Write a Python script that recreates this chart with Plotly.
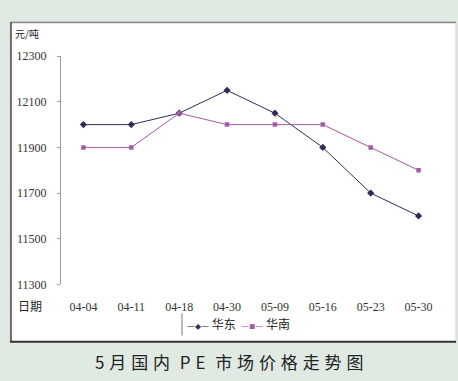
import plotly.graph_objects as go

W, H = 458, 381

dates = ["04-04", "04-11", "04-18", "04-30", "05-09", "05-16", "05-23", "05-30"]
east_china = [12000, 12000, 12050, 12150, 12050, 11900, 11700, 11600]
south_china = [11900, 11900, 12050, 12000, 12000, 12000, 11900, 11800]
y_ticks = [11300, 11500, 11700, 11900, 12100, 12300]

EAST_COLOR = "#2d2d5c"
SOUTH_COLOR = "#a45aa4"

serif = "Liberation Serif, DejaVu Serif, serif"
cjk = "Noto Sans CJK SC, sans-serif"


def px_x(v):
    return v / W


def px_y(v):
    return 1 - v / H


fig = go.Figure()
fig.add_trace(go.Scatter(
    x=dates, y=east_china, name="华东", mode="lines+markers",
    line=dict(color=EAST_COLOR, width=1),
    marker=dict(symbol="diamond", size=5.5, color=EAST_COLOR),
))
fig.add_trace(go.Scatter(
    x=dates, y=south_china, name="华南", mode="lines+markers",
    line=dict(color=SOUTH_COLOR, width=1),
    marker=dict(symbol="square", size=4.5, color=SOUTH_COLOR),
))

shapes = [
    # white card behind the chart
    dict(type="rect", xref="paper", yref="paper",
         x0=px_x(10), x1=px_x(456), y0=px_y(348), y1=px_y(15),
         fillcolor="white", line=dict(color="#cfd4d1", width=1), layer="below"),
    # darker frame edges
    dict(type="line", xref="paper", yref="paper",
         x0=px_x(10), x1=px_x(456), y0=px_y(16), y1=px_y(16),
         line=dict(color="#8a8a8a", width=1.5)),
    dict(type="line", xref="paper", yref="paper",
         x0=px_x(11), x1=px_x(11), y0=px_y(16), y1=px_y(348),
         line=dict(color="#444444", width=1.5)),
    dict(type="line", xref="paper", yref="paper",
         x0=px_x(10), x1=px_x(456), y0=px_y(347.5), y1=px_y(347.5),
         line=dict(color="#333333", width=2)),
    # legend separator
    dict(type="line", xref="paper", yref="paper",
         x0=px_x(182), x1=px_x(182), y0=px_y(318), y1=px_y(341),
         line=dict(color="#777777", width=1)),
]


def legend_key(color, glyph, name):
    return (f"<span style='color:{color};font-size:9px'>—</span>"
            f"<span style='color:{color};font-size:6px'>{glyph}</span>"
            f"<span style='color:{color};font-size:9px'>—</span> {name}")


legend_text = (legend_key(EAST_COLOR, "◆", fig.data[0].name) + "  "
               + legend_key(SOUTH_COLOR, "■", fig.data[1].name))

gap = " \u200a"
title = gap.join("5月国内") + gap * 2 + gap.join("PE") + gap * 2 + gap.join("市场价格走势图")

annotations = [
    dict(text="元/吨", x=px_x(13), y=px_y(28), xref="paper", yref="paper",
         xanchor="left", yanchor="middle", showarrow=False,
         font=dict(family=cjk, size=10, color="#222222")),
    dict(text="日期", x=px_x(16), y=px_y(310), xref="paper", yref="paper",
         xanchor="left", yanchor="middle", showarrow=False,
         font=dict(family=cjk, size=12, color="#222222")),
    dict(text=legend_text, x=px_x(185), y=px_y(329), xref="paper", yref="paper",
         xanchor="left", yanchor="middle", showarrow=False,
         font=dict(family=cjk, size=12, color="#222222")),
    dict(text=title, x=0.5, y=px_y(368),
         xref="paper", yref="paper", xanchor="center", yanchor="middle",
         showarrow=False, font=dict(family=cjk, size=17, color="#222222")),
]

fig.update_layout(
    width=W, height=H,
    margin=dict(l=0, r=0, t=0, b=0),
    paper_bgcolor="#e1e9e3",
    plot_bgcolor="white",
    showlegend=False,
    shapes=shapes,
    annotations=annotations,
    xaxis=dict(domain=[px_x(61), px_x(441)], type="category",
               showgrid=False, zeroline=False, showline=False,
               ticks="", ticklabelstandoff=14,
               tickfont=dict(family=serif, size=12, color="#333333")),
    yaxis=dict(domain=[px_y(288), px_y(51)], range=[11300, 12300],
               tickvals=y_ticks, tickformat="d", showgrid=False, zeroline=False,
               showline=True, linecolor="#9a9a9a", linewidth=1,
               ticks="outside", ticklen=3, tickcolor="#9a9a9a",
               ticklabelstandoff=8,
               tickfont=dict(family=serif, size=12, color="#333333")),
)

fig.write_html("out.html")
